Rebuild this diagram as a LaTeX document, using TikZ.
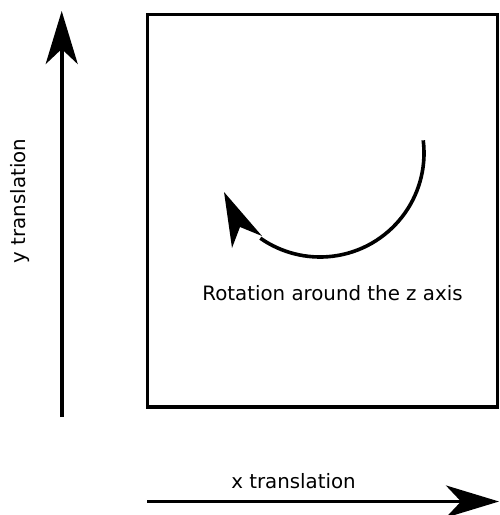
\documentclass[tikz,border=0pt]{standalone}
\usepackage{fontspec}
\setmainfont{DejaVu Sans}
\usetikzlibrary{arrows.meta}
\begin{document}
\begin{tikzpicture}[x=1pt,y=-1pt,
  thick line/.style={line width=3.6pt},
  bigarrow/.style={thick line,-{Stealth[length=53pt,width=32pt,inset=15pt]}},
  label/.style={font=\fontsize{19.8pt}{23pt}\selectfont,inner sep=0pt,anchor=base}]
\useasboundingbox (0,0) rectangle (499,515);
% frame
\draw[thick line] (147.5,14.5) rectangle (497.5,407);
% y translation arrow
\coordinate (ybot) at (61.7,417);
\coordinate (ytop) at (61.7,11);
\draw[bigarrow] (ybot) -- (ytop);
\node[label,rotate=90] (ylab) at (26,201) {y translation};
% x translation arrow
\coordinate (xleft) at (147,501.5);
\coordinate (xright) at (499,501.5);
\draw[bigarrow] (xleft) -- (xright);
\node[label] (xlab) at (293.5,488) {x translation};
% rotation arrow
\coordinate (rc) at (320,153);
\draw[thick line] (rc) ++(-7:104) arc[start angle=-7,end angle=125,radius=104];
\fill (224,192) -- (262,236) -- (240,227) -- (232,248) -- cycle;
\node[label] (rlab) at (332.5,300) {Rotation around the z axis};
\end{tikzpicture}
\end{document}
